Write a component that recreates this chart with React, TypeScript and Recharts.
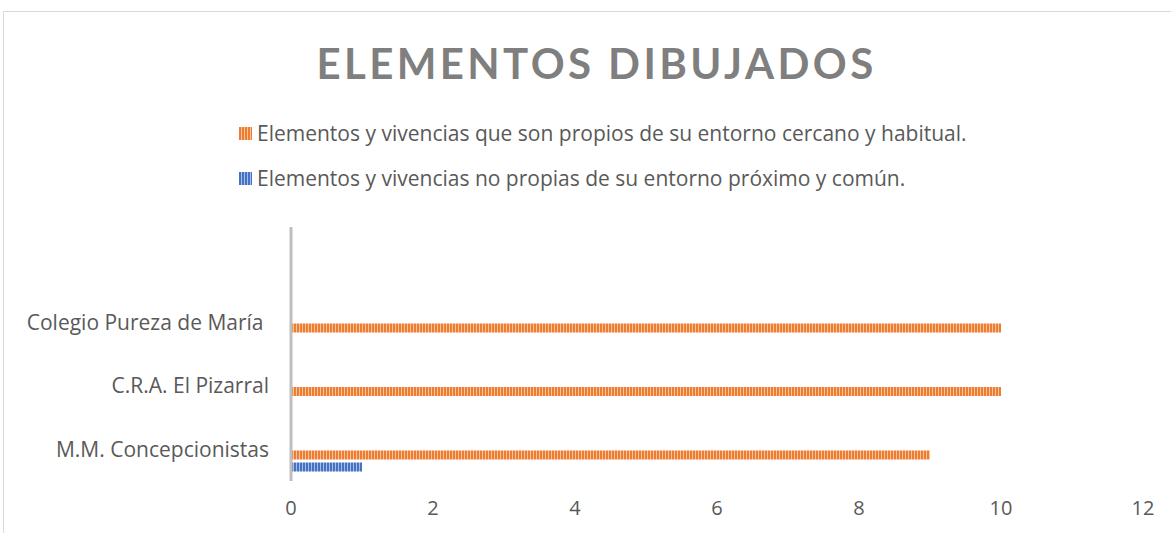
import React from "react";
import { BarChart, Bar, XAxis, YAxis } from "recharts";

const categories = ["", "Colegio Pureza de María\u00a0", "C.R.A. El Pizarral", "M.M. Concepcionistas"];
const propios: (number | null)[] = [null, 10, 10, 9];
const noPropios: (number | null)[] = [null, 0, 0, 1];
const seriesNames = [
  "Elementos y vivencias que son propios de su entorno cercano y habitual.",
  "Elementos y vivencias no propias de su entorno próximo y común.",
];
const xTicks = [0, 2, 4, 6, 8, 10, 12];
const title = "ELEMENTOS DIBUJADOS";

const data = categories.map((c, i) => ({
  name: c,
  propios: propios[i],
  noPropios: noPropios[i],
  slotA: null,
  slotB: null,
}));

const FONT = "'Open Sans', sans-serif";
const TITLE_FONT = "Lato, 'Open Sans', sans-serif";
const TXT = "#595959";

const legendItems = [
  { name: seriesNames[0], base: "#ED7D31", light: "#F8C4A0" },
  { name: seriesNames[1], base: "#4472C4", light: "#A9BEE6" },
];

function LegendBlock() {
  return (
    <div style={{ position: "absolute", left: 239, top: 111, fontFamily: FONT }}>
      {legendItems.map((it, i) => (
        <div key={i} style={{ display: "flex", alignItems: "center", height: 45, color: TXT, fontSize: 21, lineHeight: "45px" }}>
          <svg width={13} height={13} style={{ marginRight: 5, display: "block" }}>
            <defs>
              <pattern id={"lg" + i} patternUnits="userSpaceOnUse" width={3} height={13}>
                <rect x={0} y={0} width={3} height={13} fill={it.base} />
                <rect x={2} y={0} width={1} height={13} fill={it.light} />
              </pattern>
            </defs>
            <rect x={0} y={0} width={13} height={13} fill={"url(#lg" + i + ")"} />
          </svg>
          <span style={{ whiteSpace: "nowrap" }}>{it.name}</span>
        </div>
      ))}
    </div>
  );
}

export default function App() {
  return (
    <div style={{ position: "absolute", left: 0, top: 0, width: 1171, height: 533, background: "#fff", overflow: "hidden" }}>
      <div
        style={{
          position: "absolute",
          left: 3,
          top: 11,
          width: 1200,
          height: 600,
          border: "1px solid #D9D9D9",
          boxSizing: "border-box",
        }}
      />
      <div
        style={{
          position: "absolute",
          left: 0,
          width: 1193,
          top: 35,
          textAlign: "center",
          fontFamily: TITLE_FONT,
          fontWeight: 700,
          fontSize: 42,
          letterSpacing: 3.4,
          color: "#7F7F7F",
          lineHeight: "56px",
        }}
      >
        {title}
      </div>
      <LegendBlock />
      <div style={{ position: "absolute", left: 0, top: 0 }}>
        <BarChart
          width={1171}
          height={533}
          data={data}
          layout="vertical"
          margin={{ top: 227, right: 28, bottom: 22, left: 10 }}
          barSize={9}
          barGap={3}
          style={{ fontFamily: FONT }}
        >
          <defs>
            <pattern id="stripeOrange" patternUnits="userSpaceOnUse" width={3} height={20}>
              <rect x={0} y={0} width={3} height={20} fill="#ED7D31" />
              <rect x={2} y={0} width={1} height={20} fill="#F8C4A0" />
            </pattern>
            <pattern id="stripeBlue" patternUnits="userSpaceOnUse" width={3} height={20}>
              <rect x={0} y={0} width={3} height={20} fill="#4472C4" />
              <rect x={2} y={0} width={1} height={20} fill="#A9BEE6" />
            </pattern>
          </defs>
          <XAxis
            type="number"
            domain={[0, 12]}
            ticks={xTicks}
            axisLine={false}
            tickLine={false}
            tickSize={0}
            tickMargin={20}
            height={30}
            tick={{ fill: TXT, fontSize: 20 }}
            interval={0}
          />
          <YAxis
            type="category"
            dataKey="name"
            width={281}
            axisLine={{ stroke: "#BFBFBF", strokeWidth: 3 }}
            tickLine={false}
            tickSize={0}
            tickMargin={22}
            tick={{ fill: TXT, fontSize: 21 }}
            interval={0}
          />
          <Bar dataKey="slotA" fill="none" legendType="none" isAnimationActive={false} />
          <Bar dataKey="slotB" fill="none" legendType="none" isAnimationActive={false} />
          <Bar dataKey="propios" name={seriesNames[0]} fill="url(#stripeOrange)" isAnimationActive={false} />
          <Bar dataKey="noPropios" name={seriesNames[1]} fill="url(#stripeBlue)" isAnimationActive={false} />
        </BarChart>
      </div>
    </div>
  );
}
